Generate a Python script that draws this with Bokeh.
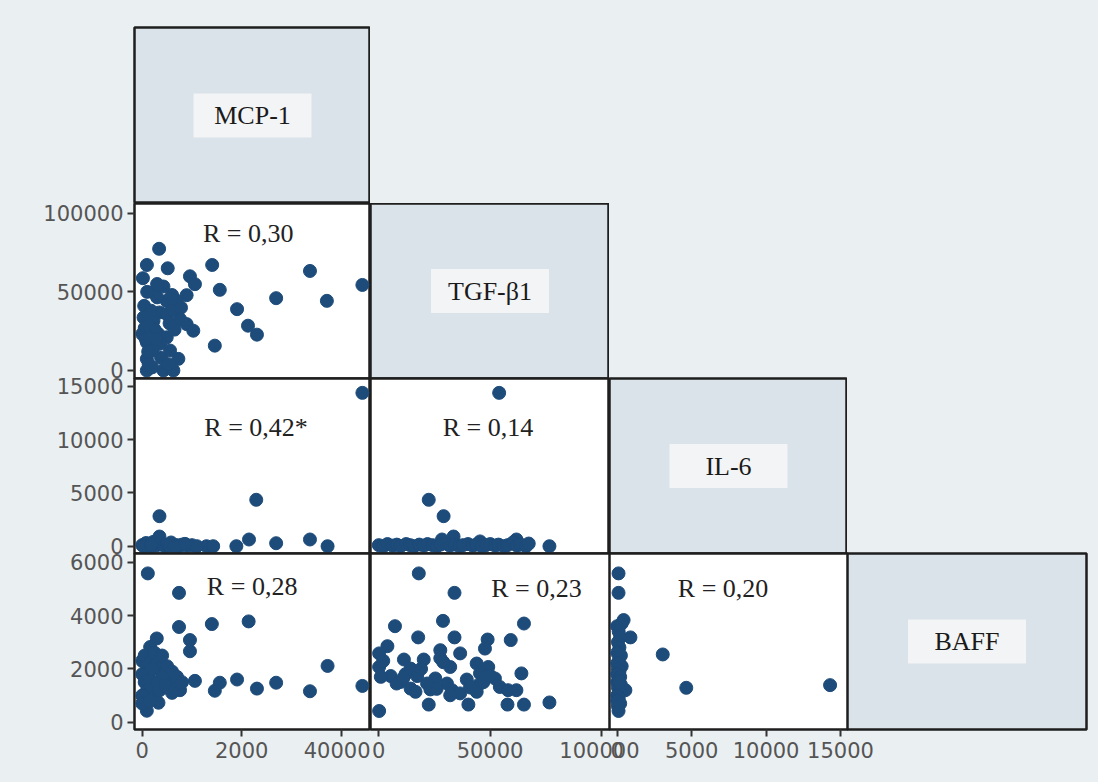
from bokeh.plotting import figure
from bokeh.layouts import row, column
from bokeh.models import Range1d, FixedTicker, Label, BasicTickFormatter
from bokeh.embed import file_html
from bokeh.resources import INLINE
from bokeh.core.properties import value

# ---------------- data ----------------
variables = ["MCP-1", "TGF-β1", "IL-6", "BAFF"]

mcp_ticks = [0, 20000, 40000]
mcp_tick_labels = {20000: "2000"}          # as printed in the original figure
tgf_ticks = [0, 50000, 100000]
il6_ticks = [0, 5000, 10000, 15000]
baff_ticks = [0, 2000, 4000, 6000]

r_texts = {(1, 0): "R = 0,30", (2, 0): "R = 0,42*", (2, 1): "R = 0,14",
           (3, 0): "R = 0,28", (3, 1): "R = 0,23", (3, 2): "R = 0,20"}

# MCP-1 (x) vs TGF-β1 (y)
mcp_tgf_x = [3400, 940, 5130, 140, 9600, 10600, 4270, 2270, 8930, 6930, 4930, 3000, 400, 3470,
             4930, 7600, 270, 2270, 8930, 10270, 0, 3270, 4930, 930, 3600, 5600, 7270, 930, 4270,
             6270, 930, 2100, 1300, 14070, 15600, 19070, 21270, 23070, 14600, 26930, 33730, 37130,
             44270, 1500, 2500, 5500, 6000, 1800, 500, 2800, 6500, 1200, 3800, 5200, 2000, 700,
             7800, 3000, 1000, 6000]
mcp_tgf_y = [77400, 67100, 65000, 58700, 59900, 54900, 53400, 49600, 47900, 44300, 44300, 46500,
             41100, 36900, 35900, 32700, 33700, 31500, 29500, 25300, 23200, 23200, 21100, 17900,
             17000, 12700, 7400, 7400, 0, 0, 0, 12700, 4000, 67100, 51300, 39000, 28500, 22800,
             15800, 46000, 63300, 44300, 54400, 28000, 26000, 30000, 38000, 38000, 27000, 20000,
             26000, 12000, 8000, 4000, 2000, 20000, 40000, 55000, 50000, 48000]

# MCP-1 (x) vs IL-6 (y)
mcp_il6_x = [44270, 22930, 3470, 3470, 21470, 26930, 33730, 37270, 18930, 12930, 14270, 0, 500,
             1000, 1500, 2000, 2500, 3000, 4000, 4500, 5000, 5500, 6000, 7000, 7500, 8000, 9000,
             10000, 11000, 800, 2200, 5800, 300, 6500, 1800, 8600]
mcp_il6_y = [14400, 4360, 2820, 910, 630, 280, 630, 0, 0, 0, 0, 100, 200, 50, 150, 0, 250, 100,
             200, 0, 150, 50, 200, 100, 0, 150, 50, 100, 0, 300, 400, 350, 0, 0, 120, 220]

# MCP-1 (x) vs BAFF (y)
mcp_baff_x = [1130, 7400, 7400, 14000, 21400, 9600, 9600, 2930, 1600, 37270, 10600, 15600, 14600,
              19070, 23070, 26930, 33730, 44270, 3270, 930, 7600, 0, 500, 1000, 1500, 2000, 2500,
              3000, 3500, 4000, 4500, 5000, 5500, 6000, 6500, 7000, 8000, 0, 500, 1000, 1500,
              2000, 2500, 3000, 3500, 4000, 5000, 6000, 0, 0, 1500, 4500, 2000]
mcp_baff_y = [5580, 4850, 3570, 3680, 3780, 3080, 2660, 3140, 2820, 2110, 1550, 1480, 1180, 1600,
              1260, 1480, 1160, 1360, 730, 430, 1200, 2300, 2500, 2100, 1900, 2400, 2600, 2200,
              2000, 2500, 1800, 2100, 1600, 1900, 1400, 1700, 1500, 1800, 1500, 1200, 1600, 1300,
              1000, 1500, 1200, 1700, 1300, 1100, 1000, 700, 800, 1400, 2000]

# TGF-β1 (x) vs IL-6 (y)
tgf_il6_x = [54100, 22450, 29130, 76700, 33600, 28400, 61860, 45500, 0, 2100, 3900, 6200, 8100,
             9800, 12300, 14100, 15800, 18200, 20300, 21900, 24200, 26100, 27800, 30400, 31900,
             34200, 36300, 37800, 40100, 42200, 43900, 46300, 48200, 50100, 52300, 53800, 56200,
             57900, 60300, 62100, 63800, 66200, 67400]
tgf_il6_y = [14400, 4360, 2820, 0, 910, 630, 630, 450, 100, 0, 200, 50, 150, 0, 200, 100, 0, 150,
             50, 200, 100, 0, 150, 250, 50, 150, 0, 100, 200, 50, 150, 0, 100, 200, 50, 150, 0,
             100, 350, 50, 150, 0, 250]

# TGF-β1 (x) vs BAFF (y)
tgf_baff_x = [17980, 34030, 7270, 28850, 65250, 17700, 34030, 48920, 59300, 3870, 47720, 27650,
              36570, 150, 11300, 20200, 27650, 32100, 44000, 49200, 150, 14300, 64100, 45500,
              5350, 17250, 25400, 39560, 52200, 9800, 21700, 30640, 44700, 54400, 900, 14300,
              23200, 32900, 36570, 44000, 58100, 61860, 16500, 32100, 22450, 40270, 57850, 65250,
              76700, 150, 8000, 12000, 19000, 29000, 41000, 47000, 2000, 26000, 50000, 11000]
tgf_baff_y = [5580, 4850, 3600, 3800, 3700, 3180, 3180, 3100, 3080, 2850, 2760, 2700, 2580, 2580,
              2350, 2350, 2400, 2070, 2200, 2070, 2070, 2010, 1830, 1830, 1730, 1730, 1640, 1600,
              1640, 1510, 1450, 1450, 1390, 1320, 1700, 1260, 1230, 1200, 1080, 1140, 1200, 1200,
              1140, 1010, 660, 660, 660, 660, 740, 420, 1450, 1800, 2000, 2250, 1300, 1500, 2300,
              1250, 1750, 1650]

# IL-6 (x) vs BAFF (y)
il6_baff_x = [90, 90, 430, 890, 3060, 4640, 14300, 550, 90, 0, 100, 200, 50, 150, 0, 250, 100, 0,
              300, 50, 150, 0, 200, 100, 0, 250, 50, 150, 0, 100, 0, 200, 50, 300, 150]
il6_baff_y = [5580, 4850, 3830, 3180, 2540, 1290, 1390, 1200, 420, 3600, 3400, 3200, 3000, 2800,
              2600, 2500, 2300, 2200, 2100, 2000, 1900, 1800, 1700, 1600, 1500, 1400, 1300, 1100,
              1000, 900, 800, 700, 600, 3700, 1500]

panels = {(1, 0): (mcp_tgf_x, mcp_tgf_y), (2, 0): (mcp_il6_x, mcp_il6_y),
          (3, 0): (mcp_baff_x, mcp_baff_y), (2, 1): (tgf_il6_x, tgf_il6_y),
          (3, 1): (tgf_baff_x, tgf_baff_y), (3, 2): (il6_baff_x, il6_baff_y)}

# ---------------- layout / style ----------------
BG = "#eaeff2"
DIAG = "#dae3ea"
BOX = "#f3f4f5"
DOT = "#1d4b7a"
EDGE = "#1e1e1e"
TICK_COLOR = "#555555"

COLW = [236, 239, 238, 239]
ROWH = [176, 175, 175, 176]
LEFT, TOP, BOTTOM, RIGHT = 134, 27, 53, 12
OVER = 30    # room for x tick labels that run past a cell edge
OVER_Y = 12  # room for y tick labels that run past a cell edge

x_lims = [(-1550, 45900), (-3730, 103700), (-517, 15470)]
y_lims = [None, (-5090, 106200), (-685, 15750), (-274, 6326)]
x_ticks = [mcp_ticks, tgf_ticks, il6_ticks]
y_ticks = [None, tgf_ticks, il6_ticks, baff_ticks]

r_pos = {(1, 0): (21300, 87100), (2, 0): (22900, 11150), (2, 1): (49100, 11150),
         (3, 0): (22100, 5090), (3, 1): (70900, 5030), (3, 2): (7110, 5030)}


def style_axis(ax, ticks, standoff):
    ax.ticker = FixedTicker(ticks=ticks)
    ax.formatter = BasicTickFormatter(use_scientific=False)
    ax.axis_line_color = None
    ax.major_tick_line_color = "#333333"
    ax.major_tick_line_width = 2
    ax.major_tick_out = 7
    ax.major_tick_in = 0
    ax.minor_tick_line_color = None
    ax.major_label_text_font = "DejaVu Sans"
    ax.major_label_text_font_size = "21px"
    ax.major_label_text_color = TICK_COLOR
    ax.major_label_standoff = standoff


def make_cell(i, j):
    diag = i == j
    right = 0
    if i == 3 and j in (1, 2):
        right = OVER
    if i == 3 and j == 3:
        right = RIGHT
    top = TOP if i == 0 else (OVER_Y if i in (2, 3) else 0)
    bottom = BOTTOM if i == 3 else (OVER_Y if i in (1, 2) else 0)
    if diag:
        xr, yr = Range1d(0, 1), Range1d(0, 1)
    else:
        xr, yr = Range1d(*x_lims[j]), Range1d(*y_lims[i])
    p = figure(frame_width=COLW[j], frame_height=ROWH[i],
               x_range=xr, y_range=yr,
               output_backend="svg", toolbar_location=None,
               x_axis_location="below" if (i == 3 and not diag) else None,
               y_axis_location="left" if (j == 0 and not diag) else None,
               min_border_left=LEFT if j == 0 else 0,
               min_border_right=right,
               min_border_top=top,
               min_border_bottom=bottom,
               background_fill_color=DIAG if diag else "white",
               border_fill_color=BG, border_fill_alpha=0,
               outline_line_color=EDGE, outline_line_width=2.5, outline_line_alpha=1)
    p.grid.visible = False
    if i == 3 and j in (2, 3):
        p.margin = (0, 0, 0, -OVER)
    if diag:
        p.rect(x=[0.5], y=[0.5], width=118, height=44, width_units="screen",
               height_units="screen", fill_color=BOX, line_color=None)
        p.text(x=[0.5], y=[0.5], text=[variables[i]], text_align="center",
               text_baseline="middle", text_font=value("Liberation Serif"),
               text_font_size="26px", text_color="#1a1a1a")
    else:
        xs, ys = panels[(i, j)]
        p.scatter(xs, ys, size=13, fill_color=DOT, line_color=DOT, line_width=1)
        lx, ly = r_pos[(i, j)]
        p.add_layout(Label(x=lx, y=ly, text=r_texts[(i, j)], text_align="center",
                           text_baseline="middle", text_font="Liberation Serif",
                           text_font_size="26px", text_color="#222222"))
        if i == 3:
            style_axis(p.xaxis[0], x_ticks[j], 5)
            if j == 0:
                p.xaxis[0].major_label_overrides = mcp_tick_labels
        if j == 0:
            style_axis(p.yaxis[0], y_ticks[i], 4)
    return p


rows = []
for i in range(4):
    r = row(*[make_cell(i, j) for j in range(i + 1)])
    if i in (2, 3):
        r.margin = (-2 * OVER_Y, 0, 0, 0)
    rows.append(r)

layout = column(*rows, styles={"background-color": BG})

open("out.html", "w").write(file_html(layout, INLINE))
